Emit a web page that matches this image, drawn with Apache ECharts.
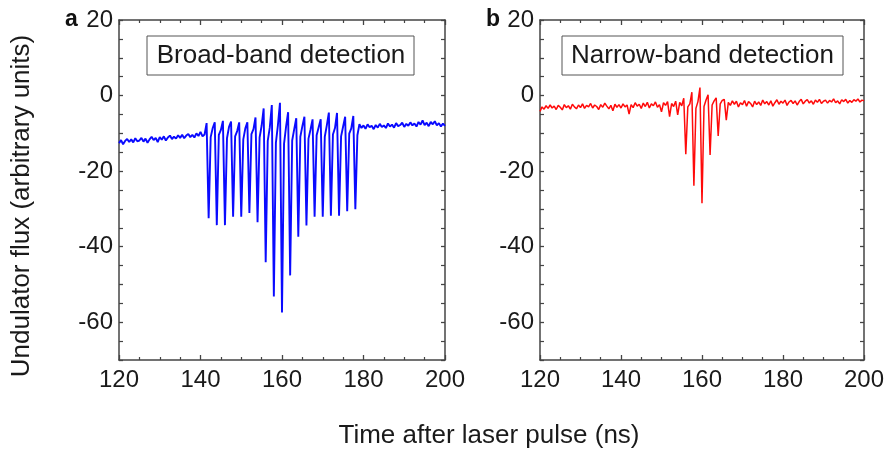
<!DOCTYPE html>
<html>
<head>
<meta charset="utf-8">
<script src="https://cdn.jsdelivr.net/npm/echarts@6/dist/echarts.min.js"></script>
<style>html,body{margin:0;padding:0;background:#fff}#c{width:887px;height:449px}</style>
</head>
<body>
<div id="c"></div>
<script>
// sampling grid (ns)
const tStart = 120, tStep = 0.5;
const xTicks = [120, 140, 160, 180, 200];
const yTicks = [20, 0, -20, -40, -60];

// Panel a: broad-band detection (blue)
const broadBand = [
 -12.6,-11.8,-12.9,-12.0,-11.5,-12.3,-11.6,-12.4,-11.3,-12.1,
 -11.9,-11.2,-12.2,-11.4,-12.5,-11.6,-10.9,-11.8,-11.2,-12.3,
 -11.0,-11.7,-10.8,-11.9,-11.1,-10.6,-11.5,-10.9,-11.4,-10.5,
 -11.2,-10.4,-11.3,-10.6,-10.2,-11.0,-10.4,-11.1,-10.0,-10.7,
 -9.6,-10.8,-10.3,
 // spikes (top, bottom, recover, bump)
 -7.3,-32.5,-11.0,-8.6,
 -7.1,-34.3,-10.4,-9.1,
 -6.7,-34.3,-11.3,-8.3,
 -6.9,-32.1,-10.8,-9.4,
 -7.1,-32.1,-11.6,-8.7,
 -7.1,-31.1,-10.2,-8.9,
 -5.8,-33.5,-11.1,-8.0,
 -3.4,-44.1,-12.0,-8.5,
 -2.5,-53.2,-12.5,-7.8,
 -1.9,-57.4,-12.8,-8.2,
 -4.4,-47.6,-11.9,-8.9,
 -6.0,-37.4,-10.9,-8.1,
 -5.6,-34.4,-11.4,-9.0,
 -6.3,-32.1,-10.5,-8.4,
 -6.3,-32.1,-10.9,-7.9,
 -4.5,-31.8,-10.3,-8.6,
 -4.6,-31.8,-10.8,-8.2,
 -5.6,-30.6,-10.1,-8.7,
 -5.4,-30.1,-10.5,-7.6,
 -8.6,
 -7.9,-8.8,-7.6,-8.4,-8.0,-8.9,-7.8,-8.5,-7.5,-8.3,
 -7.9,-8.6,-7.4,-8.2,-7.7,-8.5,-7.3,-8.1,-7.8,-7.2,
 -8.3,-7.5,-8.0,-7.1,-7.9,-7.4,-8.2,-7.0,-7.7,-6.6,
 -7.8,-7.2,-8.1,-7.0,-7.6,-6.8,-7.9,-7.3,-8.2,-7.4,
 -8.0
];

// Panel b: narrow-band detection (red)
const narrowBand = [
 -4.2,-3.0,-3.6,-2.7,-3.4,-2.5,-3.3,-2.8,-3.7,-2.6,
 -3.1,-3.8,-2.4,-3.2,-2.7,-3.6,-2.3,-3.0,-3.5,-2.5,
 -3.2,-2.2,-3.4,-2.6,-3.0,-2.1,-3.3,-2.5,-2.9,-3.7,
 -2.4,-3.1,-2.0,-2.8,-3.5,-2.6,-4.0,-2.3,-3.1,-2.4,
 -3.3,-2.2,-3.0,-2.5,-4.9,-2.4,-3.2,-1.9,-2.8,-2.3,
 -3.4,-2.0,-2.9,-1.8,-3.3,-2.2,-2.7,-1.7,-3.1,-2.4,
 -4.3,-1.9,-2.6,-1.6,-5.6,-2.1,-2.9,-1.5,-5.1,-1.8,
 -2.7,-0.7,-15.5,-3.0,-2.2,0.9,-23.9,-3.4,-1.6,2.1,
 -28.5,-2.9,-1.2,0.2,-15.7,-2.5,-1.4,-0.6,-10.7,-2.2,
 -1.3,-1.0,-6.5,-1.8,-2.6,-1.4,-2.3,-1.5,-3.0,-1.9,
 -2.4,-1.3,-2.8,-1.6,-2.1,-3.0,-1.5,-2.4,-1.7,-2.6,
 -1.2,-2.2,-1.6,-2.5,-1.4,-2.8,-1.9,-1.1,-2.3,-1.5,
 -2.0,-1.2,-2.6,-1.7,-1.3,-2.1,-1.4,-2.5,-1.6,-1.0,
 -2.2,-1.5,-1.1,-2.0,-1.4,-2.3,-1.2,-1.8,-1.0,-2.1,
 -1.5,-1.2,-2.0,-1.3,-1.7,-0.9,-1.9,-1.4,-2.2,-1.1,
 -1.6,-1.0,-2.0,-1.3,-1.8,-1.1,-1.5,-0.9,-1.7,-1.2,
 -1.4
];

const pairs = arr => arr.map((v, i) => [tStart + i * tStep, v]);

const FONT = "'Liberation Sans', Arial, sans-serif";
const AX = '#444';
const TXT = '#1a1a1a';

function xAx(grid, pos, labels) {
  return {
    gridIndex: grid, type: 'value', position: pos, min: xTicks[0], max: xTicks[xTicks.length - 1], interval: 20,
    axisLine: { show: true, onZero: false, lineStyle: { color: AX, width: 1.5 } },
    axisTick: { show: true, inside: true, length: 5, lineStyle: { color: AX, width: 1.3 } },
    minorTick: { show: true, splitNumber: 4, length: 3, lineStyle: { color: AX, width: 1.2 } },
    splitLine: { show: false }, minorSplitLine: { show: false },
    axisLabel: { show: labels, fontSize: 24, color: TXT, margin: 8, fontFamily: FONT }
  };
}
function yAx(grid, pos, labels) {
  return {
    gridIndex: grid, type: 'value', position: pos, min: -70, max: 20, interval: 10,
    axisLine: { show: true, onZero: false, lineStyle: { color: AX, width: 1.5 } },
    axisTick: { show: true, inside: true, length: 4, lineStyle: { color: AX, width: 1.3 } },
    minorTick: { show: true, splitNumber: 2, length: 4, lineStyle: { color: AX, width: 1.2 } },
    splitLine: { show: false }, minorSplitLine: { show: false },
    axisLabel: {
      show: labels, fontSize: 24, color: TXT, margin: 6, fontFamily: FONT,
      formatter: v => (yTicks.indexOf(v) >= 0 ? String(v) : '')
    }
  };
}

const chart = echarts.init(document.getElementById('c'), null, { renderer: 'canvas' });
chart.setOption({
  animation: false,
  backgroundColor: '#fff',
  grid: [
    { left: 119, top: 20, width: 326, height: 340 },
    { left: 540, top: 20, width: 325, height: 340 }
  ],
  xAxis: [xAx(0, 'bottom', true), xAx(0, 'top', false), xAx(1, 'bottom', true), xAx(1, 'top', false)],
  yAxis: [yAx(0, 'left', true), yAx(0, 'right', false), yAx(1, 'left', true), yAx(1, 'right', false)],
  series: [
    { type: 'line', xAxisIndex: 0, yAxisIndex: 0, data: pairs(broadBand), showSymbol: false,
      lineStyle: { color: '#0a0aff', width: 1.9 }, itemStyle: { color: '#0a0aff' } },
    { type: 'line', xAxisIndex: 2, yAxisIndex: 2, data: pairs(narrowBand), showSymbol: false,
      lineStyle: { color: '#ff0a0a', width: 1.5 }, itemStyle: { color: '#ff0a0a' } }
  ],
  graphic: [
    { type: 'rect', shape: { x: 147, y: 36, width: 267, height: 39 }, style: { fill: '#fff', stroke: '#555', lineWidth: 1 } },
    { type: 'text', x: 281, y: 56, style: { text: 'Broad-band detection', align: 'center', verticalAlign: 'middle', fontSize: 26, fontFamily: FONT, fill: TXT } },
    { type: 'rect', shape: { x: 562, y: 36, width: 281, height: 39 }, style: { fill: '#fff', stroke: '#555', lineWidth: 1 } },
    { type: 'text', x: 702.5, y: 56, style: { text: 'Narrow-band detection', align: 'center', verticalAlign: 'middle', fontSize: 26, fontFamily: FONT, fill: TXT } },
    { type: 'text', x: 65, y: 20, style: { text: 'a', verticalAlign: 'middle', fontSize: 23, fontWeight: 'bold', fontFamily: FONT, fill: '#111' } },
    { type: 'text', x: 486, y: 20, style: { text: 'b', verticalAlign: 'middle', fontSize: 23, fontWeight: 'bold', fontFamily: FONT, fill: '#111' } },
    { type: 'text', x: 489, y: 436, style: { text: 'Time after laser pulse (ns)', align: 'center', verticalAlign: 'middle', fontSize: 26, fontFamily: FONT, fill: TXT } },
    { type: 'text', x: 22, y: 206, rotation: Math.PI / 2, style: { text: 'Undulator flux (arbitrary units)', align: 'center', verticalAlign: 'middle', fontSize: 26, fontFamily: FONT, fill: TXT } }
  ]
});
</script>
</body>
</html>
